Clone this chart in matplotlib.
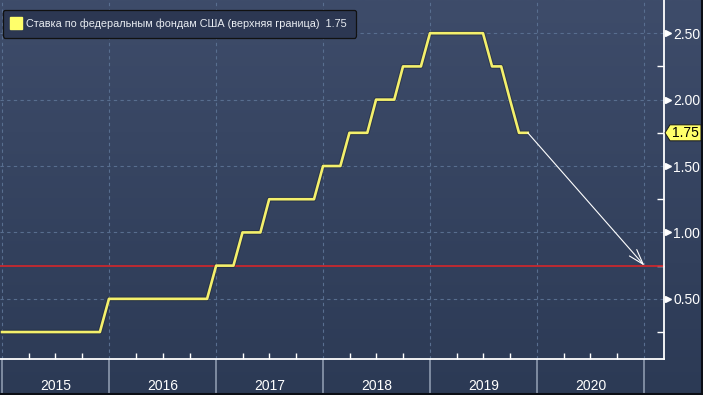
import matplotlib
matplotlib.use("Agg")
import matplotlib.pyplot as plt
import matplotlib.dates as mdates
import matplotlib.transforms as mtransforms
import matplotlib.patheffects as pe
from matplotlib.colors import LinearSegmentedColormap
from matplotlib.lines import Line2D
from matplotlib.patches import Polygon
from matplotlib.ticker import FormatStrFormatter
import numpy as np
import pandas as pd

# month-end values of the upper bound of the Fed funds target range
months = pd.date_range("2014-12-31", "2019-11-30", freq="ME")
rate = [0.25,
        0.25, 0.25, 0.25, 0.25, 0.25, 0.25, 0.25, 0.25, 0.25, 0.25, 0.25, 0.50,
        0.50, 0.50, 0.50, 0.50, 0.50, 0.50, 0.50, 0.50, 0.50, 0.50, 0.50, 0.75,
        0.75, 0.75, 1.00, 1.00, 1.00, 1.25, 1.25, 1.25, 1.25, 1.25, 1.25, 1.50,
        1.50, 1.50, 1.75, 1.75, 1.75, 2.00, 2.00, 2.00, 2.25, 2.25, 2.25, 2.50,
        2.50, 2.50, 2.50, 2.50, 2.50, 2.50, 2.25, 2.25, 2.00, 1.75, 1.75]
last_value = 1.75
target_date = pd.Timestamp("2021-01-01")
target_value = 0.75
years = [2015, 2016, 2017, 2018, 2019, 2020]
yticks = [0.5, 1.0, 1.5, 2.0, 2.5]
legend_label = "Ставка по федеральным фондам США (верхняя граница)  1.75"

W, H = 703, 395
fig = plt.figure(figsize=(W / 100, H / 100), dpi=100)

# background gradient
bg = fig.add_axes([0, 0, 1, 1])
cmap = LinearSegmentedColormap.from_list("bg", ["#2c3a55", "#3e4c6a"])
bg.imshow(np.linspace(0, 1, 256).reshape(-1, 1), aspect="auto", cmap=cmap,
          extent=[0, 1, 0, 1], origin="lower")
bg.axis("off")

ax = fig.add_axes([0, 36 / H, 664 / W, 359 / H])
ax.patch.set_alpha(0)

x0 = mdates.date2num(pd.Timestamp("2014-12-24"))
x1 = mdates.date2num(pd.Timestamp("2021-03-09"))
ax.set_xlim(x0, x1)
ax.set_ylim(0.047, 2.75)

for s in ["top", "left"]:
    ax.spines[s].set_visible(False)
for s in ["right", "bottom"]:
    ax.spines[s].set_color("white")
    ax.spines[s].set_linewidth(1.3)

# grid
ax.set_yticks(yticks)
ax.set_yticks([0.25, 0.75, 1.25, 1.75, 2.25], minor=True)
ax.yaxis.set_major_formatter(FormatStrFormatter("%.2f"))
ax.xaxis.set_major_locator(mdates.YearLocator())
ax.xaxis.set_minor_locator(mdates.MonthLocator((4, 7, 10)))
ax.grid(True, which="major", color="#586e8f", linestyle=(0, (3, 3)), linewidth=0.8)

ax.yaxis.tick_right()
ax.tick_params(axis="y", which="major", length=0, pad=6.5, labelsize=10,
               labelcolor="white")
ax.tick_params(axis="y", which="minor", direction="in", length=5, color="white",
               width=1)
ax.tick_params(axis="x", which="major", direction="out", length=26, color="#8d99ae",
               width=1.2, labelbottom=False)
ax.tick_params(axis="x", which="minor", direction="in", length=4, color="white",
               width=1)
for lab in ax.get_yticklabels():
    lab.set_fontfamily("Liberation Sans")

# triangles at major y ticks
tri = mtransforms.offset_copy(ax.get_yaxis_transform(), fig=fig, x=4, y=0, units="dots")
ax.plot([1] * len(yticks), yticks, linestyle="none", marker=">", markersize=5,
        color="white", transform=tri, clip_on=False)

# year labels
for y in years:
    ax.text(mdates.date2num(pd.Timestamp(f"{y}-07-02")), -0.075, str(y),
            transform=ax.get_xaxis_transform(), ha="center", va="center",
            color="white", fontsize=10, family="Liberation Sans")

# red reference level
ax.axhline(target_value, color="#c8282e", linewidth=1.3, zorder=2)

# rate line
ax.plot(months, rate, color="#f4f06c", linewidth=1.9, zorder=3,
        path_effects=[pe.Stroke(linewidth=3.3, foreground="#1e2530", alpha=0.5),
                      pe.Normal()])

# projection arrow
ax.annotate("", xy=(target_date, target_value), xytext=(months[-1], rate[-1]),
            arrowprops=dict(arrowstyle="->,head_length=1.1,head_width=0.35",
                            color="white", lw=0.8, shrinkA=0, shrinkB=0), zorder=4)

# last value tag
tx, ty = ax.transAxes.transform((1, 0))[0], ax.transData.transform((0, last_value))[1]
tag = [(tx + 1, ty), (tx + 6, ty + 8), (tx + 37, ty + 8),
       (tx + 37, ty - 8), (tx + 6, ty - 8)]
fig.add_artist(Polygon([(px / W, py / H) for px, py in tag], closed=True,
                       transform=fig.transFigure, facecolor="#ffff6a",
                       edgecolor="#1a1a1a", linewidth=0.7))
fig.text((tx + 21) / W, ty / H, f"{last_value:.2f}", ha="center", va="center",
         fontsize=10, family="Liberation Sans", color="black")

# legend
handle = Line2D([], [], linestyle="none", marker="s", markersize=8,
                markerfacecolor="#ffff6a", markeredgecolor="#ffff6a")
leg = ax.legend([handle], [legend_label], loc="upper left",
                bbox_to_anchor=(0.004, 0.973), borderaxespad=0, fancybox=True,
                facecolor="#2c3752", edgecolor="#111111", framealpha=1,
                handlelength=0.8, handletextpad=0.6, borderpad=0.8,
                prop={"family": "Liberation Sans", "size": 7.8})
leg.get_frame().set_linewidth(0.9)
for t in leg.get_texts():
    t.set_color("#e9edf2")

# frame of the image
fig.add_artist(plt.Line2D([1 - 1 / W, 1 - 1 / W], [0, 1], color="#0c0f16", lw=1.5))
fig.add_artist(plt.Line2D([0, 1], [1 / H, 1 / H], color="#0c0f16", lw=1.5))

fig.savefig("out.png", dpi=100)
